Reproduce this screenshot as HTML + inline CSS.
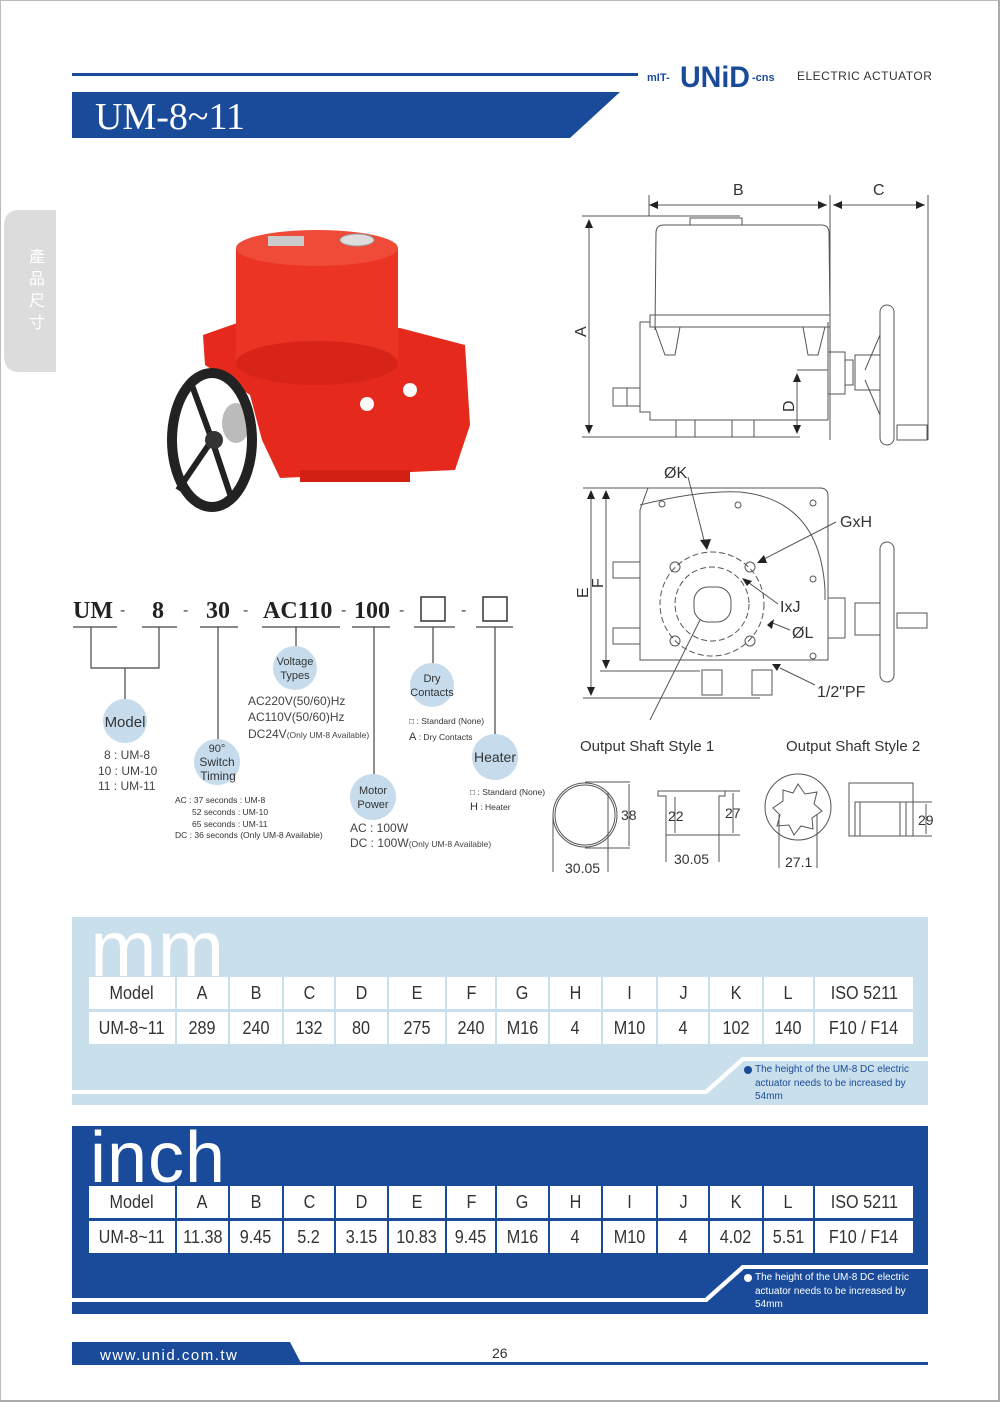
<!DOCTYPE html>
<html><head><meta charset="utf-8"><style>
*{margin:0;padding:0;box-sizing:border-box}
body{width:1000px;height:1402px;background:#fff;position:relative;overflow:hidden;font-family:"Liberation Sans",sans-serif}
.frame{position:absolute;left:0;top:0;width:1000px;height:1402px;border:1px solid #bbb;border-right:2px solid #aaa;border-bottom:2px solid #aaa}
.row{position:absolute;left:89px;display:flex;gap:2px;height:32px}
.row div{background:#fff;color:#333;font-family:"Liberation Sans",sans-serif;font-size:18px;display:flex;align-items:center;justify-content:center;height:32px;white-space:nowrap}
.row div span{display:inline-block;transform:scaleX(0.9)}
.big{position:absolute;font-family:"Liberation Sans",sans-serif;line-height:1;letter-spacing:1px}
.note{position:absolute;left:755px;font-size:10px;line-height:13.5px;font-family:"Liberation Sans",sans-serif;width:172px}
</style></head><body>
<div class="frame"></div>

<svg width="1000" height="1402" style="position:absolute;left:0;top:0" font-family="Liberation Sans, sans-serif">
<!-- header -->
<rect x="72" y="73" width="566" height="3" fill="#1a4b9b"/>
<polygon points="72,92 620,92 570,138 72,138" fill="#1a4b9b"/>
<text x="95" y="129" font-family="Liberation Serif, serif" font-size="38" fill="#fff">UM-8~11</text>
<text x="647" y="81" font-size="11" font-weight="bold" fill="#1a4b9b">mIT-</text>
<text x="680" y="87" font-size="30" font-weight="bold" fill="#1a4b9b" textLength="70" lengthAdjust="spacingAndGlyphs">UNiD</text>
<text x="752" y="81" font-size="11" font-weight="bold" fill="#1a4b9b">-cns</text>
<text x="797" y="80" font-size="12" fill="#333" letter-spacing="0.5">ELECTRIC ACTUATOR</text>
<!-- side tab -->
<path d="M56,210 L20,210 Q4,210 4,226 L4,356 Q4,372 20,372 L56,372 Z" fill="#dcdcdc"/>
<text font-family="Noto Sans CJK TC, sans-serif" font-size="16" fill="#fff" text-anchor="middle"><tspan x="37" y="262">產</tspan><tspan x="37" y="284">品</tspan><tspan x="37" y="306">尺</tspan><tspan x="37" y="328">寸</tspan></text>

<!-- product photo -->
<polygon points="203,335 240,322 400,328 465,345 470,425 455,470 280,478 262,440 250,395 205,365" fill="#e52a1d"/>
<rect x="236" y="248" width="162" height="115" fill="#ec3424"/>
<ellipse cx="317" cy="363" rx="81" ry="22" fill="#d82418"/>
<ellipse cx="317" cy="248" rx="81" ry="18" fill="#f04a38"/>
<rect x="268" y="236" width="36" height="10" fill="#ccc"/>
<ellipse cx="357" cy="240" rx="17" ry="6" fill="#ddd" stroke="#999"/>
<rect x="300" y="470" width="110" height="12" fill="#d22015"/>
<circle cx="367" cy="404" r="7" fill="#fafafa"/><circle cx="410" cy="390" r="7" fill="#fafafa"/>
<ellipse cx="236" cy="423" rx="14" ry="20" fill="#bbb"/>
<ellipse cx="212" cy="440" rx="40" ry="67" fill="none" stroke="#222" stroke-width="10"/>
<line x1="212" y1="440" x2="190" y2="380" stroke="#222" stroke-width="6"/>
<line x1="212" y1="440" x2="232" y2="500" stroke="#222" stroke-width="6"/>
<line x1="212" y1="440" x2="178" y2="490" stroke="#222" stroke-width="6"/>
<circle cx="214" cy="440" r="9" fill="#333"/>

<!-- model code -->
<g font-family="Liberation Serif, serif" font-weight="bold" font-size="24" fill="#222">
<text x="73" y="618">UM</text><text x="152" y="618">8</text><text x="206" y="618">30</text><text x="263" y="618">AC110</text><text x="354" y="618">100</text>
</g>
<g fill="#444" font-size="16"><text x="120" y="615">-</text><text x="183" y="615">-</text><text x="243" y="615">-</text><text x="341" y="615">-</text><text x="399" y="615">-</text><text x="461" y="615">-</text></g>
<rect x="421" y="597" width="24" height="24" fill="none" stroke="#333" stroke-width="1.5"/>
<rect x="483" y="597" width="24" height="24" fill="none" stroke="#333" stroke-width="1.5"/>
<g stroke="#444" stroke-width="1.2" fill="none">
<line x1="73" y1="627" x2="117" y2="627"/><line x1="142" y1="627" x2="177" y2="627"/><line x1="200" y1="627" x2="238" y2="627"/><line x1="262" y1="627" x2="340" y2="627"/><line x1="352" y1="627" x2="390" y2="627"/><line x1="414" y1="627" x2="455" y2="627"/><line x1="476" y1="627" x2="513" y2="627"/>
<polyline points="91,627 91,668 159,668 159,627"/><line x1="125" y1="668" x2="125" y2="700"/>
<line x1="218" y1="627" x2="218" y2="740"/><line x1="296" y1="627" x2="296" y2="647"/><line x1="374" y1="627" x2="374" y2="775"/><line x1="433" y1="627" x2="433" y2="663"/><line x1="495" y1="627" x2="495" y2="735"/>
</g>
<g fill="#c6dcec"><circle cx="125" cy="721" r="22"/><circle cx="217" cy="762" r="23"/><circle cx="295" cy="668" r="22"/><circle cx="373" cy="797" r="23"/><circle cx="432" cy="685" r="22"/><circle cx="495" cy="757" r="23"/></g>
<g fill="#333" text-anchor="middle">
<text x="125" y="727" font-size="15">Model</text>
<text x="217" y="752" font-size="11">90°</text><text x="217" y="766" font-size="12">Switch</text><text x="218" y="780" font-size="12">Timing</text>
<text x="295" y="665" font-size="11">Voltage</text><text x="295" y="679" font-size="11">Types</text>
<text x="373" y="794" font-size="11">Motor</text><text x="373" y="808" font-size="11">Power</text>
<text x="432" y="682" font-size="11">Dry</text><text x="432" y="696" font-size="11">Contacts</text>
<text x="495" y="762" font-size="14">Heater</text>
</g>
<g fill="#444" font-size="12">
<text x="104" y="759">8 : UM-8</text><text x="98" y="775">10 : UM-10</text><text x="98" y="790">11 : UM-11</text>
<text x="248" y="705">AC220V(50/60)Hz</text><text x="248" y="721">AC110V(50/60)Hz</text><text x="248" y="738">DC24V<tspan font-size="8.5">(Only UM-8 Available)</tspan></text>
<text x="350" y="832">AC : 100W</text><text x="350" y="847">DC : 100W<tspan font-size="8.5">(Only UM-8 Available)</tspan></text>
</g>
<g fill="#333" font-size="8.5">
<text x="175" y="803">AC : 37 seconds : UM-8</text><text x="192" y="815">52 seconds : UM-10</text><text x="192" y="827">65 seconds : UM-11</text><text x="175" y="838">DC : 36 seconds (Only UM-8 Available)</text>
<text x="409" y="724">□ : Standard (None)</text><text x="409" y="740"><tspan font-size="11">A</tspan> : Dry Contacts</text>
<text x="470" y="795">□ : Standard (None)</text><text x="470" y="810"><tspan font-size="11">H</tspan> : Heater</text>
</g>

<!-- side view drawing -->
<g stroke="#555" stroke-width="1" fill="none">
<line x1="649" y1="195" x2="649" y2="216"/><line x1="830" y1="195" x2="830" y2="440"/><line x1="928" y1="195" x2="928" y2="440"/>
<line x1="652" y1="205" x2="827" y2="205"/><line x1="833" y1="205" x2="925" y2="205"/>
<line x1="582" y1="216" x2="740" y2="216"/><line x1="589" y1="220" x2="589" y2="433"/><line x1="582" y1="437" x2="800" y2="437"/>
<line x1="797" y1="382" x2="797" y2="433"/><line x1="797" y1="370" x2="828" y2="370"/>
<path d="M655,330 L656,233 Q656,225 664,225 L821,225 Q829,225 829,233 L830,315"/>
<rect x="690" y="218" width="52" height="7"/>
<rect x="650" y="315" width="180" height="12"/>
<path d="M650,322 L640,322 L640,412 L650,412 L650,420 L828,420 L828,322"/>
<polygon points="655,327 665,355 675,355 680,327"/><polygon points="803,327 808,355 818,355 825,327"/>
<rect x="676" y="420" width="78" height="17"/><line x1="695" y1="420" x2="695" y2="437"/><line x1="732" y1="420" x2="732" y2="437"/>
<rect x="613" y="388" width="27" height="18"/><line x1="627" y1="388" x2="627" y2="406"/>
<rect x="828" y="352" width="17" height="42"/><rect x="845" y="360" width="8" height="25"/><rect x="855" y="355" width="25" height="35"/>
<rect x="880" y="305" width="14" height="140" rx="7"/><line x1="880" y1="335" x2="865" y2="370"/><line x1="880" y1="415" x2="865" y2="380"/>
<rect x="897" y="425" width="30" height="15"/>
</g>
<g fill="#222"><polygon points="649,205 658,201 658,209"/><polygon points="827,205 818,201 818,209"/><polygon points="833,205 842,201 842,209"/><polygon points="925,205 916,201 916,209"/>
<polygon points="589,219 585,228 593,228"/><polygon points="589,434 585,425 593,425"/><polygon points="797,373 793,382 801,382"/><polygon points="797,434 793,425 801,425"/></g>
<g fill="#333" font-size="16"><text x="733" y="195">B</text><text x="873" y="195">C</text>
<text transform="translate(586,337) rotate(-90)">A</text><text transform="translate(794,412) rotate(-90)">D</text></g>

<!-- top view drawing -->
<g stroke="#555" stroke-width="1" fill="none">
<path d="M648,488 L820,488 Q828,488 828,496 L828,660 L640,660 L640,510 Z"/>
<path d="M640,505 Q700,490 740,492 Q820,500 825,590 L825,600"/>
<line x1="583" y1="488" x2="648" y2="488"/><line x1="583" y1="698" x2="760" y2="698"/><line x1="600" y1="671" x2="700" y2="671"/>
<line x1="591" y1="491" x2="591" y2="695"/><line x1="606" y1="491" x2="606" y2="668"/>
<circle cx="712" cy="604" r="52" stroke-dasharray="6,3"/><circle cx="712" cy="604" r="37" stroke-dasharray="6,3"/>
<rect x="694" y="587" width="37" height="35" rx="14"/>
<circle cx="675" cy="567" r="5"/><circle cx="750" cy="567" r="5"/><circle cx="675" cy="641" r="5"/><circle cx="750" cy="641" r="5"/>
<circle cx="662" cy="504" r="3"/><circle cx="738" cy="505" r="3"/><circle cx="813" cy="503" r="3"/><circle cx="813" cy="579" r="3"/><circle cx="813" cy="656" r="3"/>
<rect x="613" y="562" width="27" height="16"/><rect x="613" y="628" width="27" height="16"/>
<rect x="702" y="670" width="20" height="25"/><rect x="752" y="670" width="20" height="25"/>
<rect x="828" y="598" width="17" height="40"/><rect x="855" y="603" width="25" height="32"/>
<rect x="880" y="542" width="14" height="140" rx="7"/><rect x="897" y="613" width="30" height="15"/>
<line x1="688" y1="477" x2="706" y2="548"/><line x1="836" y1="522" x2="762" y2="560"/><line x1="778" y1="604" x2="745" y2="580"/>
<line x1="790" y1="630" x2="770" y2="622"/><line x1="815" y1="685" x2="780" y2="668"/><line x1="700" y1="620" x2="650" y2="720"/>
</g>
<g fill="#222"><polygon points="591,490 587,499 595,499"/><polygon points="591,696 587,687 595,687"/><polygon points="606,490 602,499 610,499"/><polygon points="606,669 602,660 610,660"/>
<polygon points="707,550 700,540 711,539"/><polygon points="757,563 764,555 767,563"/><polygon points="767,625 774,619 772,629"/><polygon points="742,578 752,581 747,586"/><polygon points="772,664 781,664 777,671"/></g>
<g fill="#333" font-size="16"><text x="664" y="478">ØK</text><text x="840" y="527">GxH</text><text x="780" y="612">IxJ</text><text x="792" y="638">ØL</text><text x="817" y="697">1/2"PF</text>
<text transform="translate(588,598) rotate(-90)">E</text><text transform="translate(603,588) rotate(-90)">F</text></g>

<!-- output shaft -->
<g fill="#333" font-size="15"><text x="580" y="751">Output Shaft Style 1</text><text x="786" y="751">Output Shaft Style 2</text></g>
<g stroke="#555" stroke-width="1" fill="none">
<circle cx="585" cy="815" r="32"/><circle cx="585" cy="815" r="30"/>
<line x1="585" y1="782" x2="630" y2="782"/><line x1="585" y1="848" x2="630" y2="848"/><line x1="553" y1="815" x2="553" y2="872"/><line x1="608" y1="792" x2="608" y2="872"/><line x1="629" y1="784" x2="629" y2="846"/>
<path d="M658,791 L725,791 L725,796 L719,796 L719,835 L666,835 L666,796 L658,796 Z"/>
<line x1="719" y1="835" x2="740" y2="835"/><line x1="725" y1="791" x2="740" y2="791"/><line x1="675" y1="797" x2="675" y2="833"/><line x1="733" y1="793" x2="733" y2="833"/><line x1="666" y1="835" x2="666" y2="862"/><line x1="719" y1="835" x2="719" y2="862"/>
<circle cx="798" cy="807" r="33"/>
<polygon points="798,784 805,794 817,792 814,804 822,811 812,818 813,829 801,826 794,835 789,825 777,826 780,815 773,808 783,801 783,790 793,793"/>
<line x1="779" y1="815" x2="779" y2="868"/><line x1="817" y1="815" x2="817" y2="868"/>
<rect x="849" y="783" width="64" height="53"/><rect x="855" y="802" width="51" height="34"/><line x1="860" y1="802" x2="860" y2="836"/><line x1="900" y1="802" x2="900" y2="836"/>
<line x1="906" y1="802" x2="932" y2="802"/><line x1="906" y1="836" x2="932" y2="836"/><line x1="926" y1="804" x2="926" y2="834"/>
</g>
<g fill="#333" font-size="14"><text x="621" y="820">38</text><text x="668" y="821">22</text><text x="725" y="818">27</text><text x="565" y="873">30.05</text><text x="674" y="864">30.05</text><text x="785" y="867">27.1</text><text x="918" y="825">29</text></g>

<!-- mm box -->
<rect x="72" y="917" width="856" height="188" fill="#c9dfeb"/>
<polygon points="72,1090 705,1090 742,1057 928,1057 928,1061 744,1061 707,1094 72,1094" fill="#fff"/>
<!-- inch box -->
<rect x="72" y="1126" width="856" height="188" fill="#1a4b9b"/>
<polygon points="72,1298 705,1298 742,1265 928,1265 928,1269 744,1269 707,1302 72,1302" fill="#fff"/>
<!-- footer -->
<polygon points="72,1342 290,1342 302,1365 72,1365" fill="#1a4b9b"/>
<rect x="290" y="1362" width="638" height="3" fill="#1a4b9b"/>
<text x="100" y="1360" font-size="15" fill="#fff" letter-spacing="1.5">www.unid.com.tw</text>
<text x="492" y="1358" font-size="14" fill="#333">26</text>
</svg>

<div class="big" style="left:90px;top:920px;color:#fff;font-size:80px;line-height:58px;height:56px;overflow:hidden">mm</div>
<div class="big" style="left:90px;top:1122px;color:#fff;font-size:72px">inch</div>

<div class="row" style="top:977px"><div style="width:86px"><span>Model</span></div><div style="width:51px"><span>A</span></div><div style="width:52px"><span>B</span></div><div style="width:50px"><span>C</span></div><div style="width:51px"><span>D</span></div><div style="width:56px"><span>E</span></div><div style="width:48px"><span>F</span></div><div style="width:51px"><span>G</span></div><div style="width:51px"><span>H</span></div><div style="width:53px"><span>I</span></div><div style="width:50px"><span>J</span></div><div style="width:52px"><span>K</span></div><div style="width:49px"><span>L</span></div><div style="width:98px"><span>ISO 5211</span></div></div>
<div class="row" style="top:1012px"><div style="width:86px"><span>UM-8~11</span></div><div style="width:51px"><span>289</span></div><div style="width:52px"><span>240</span></div><div style="width:50px"><span>132</span></div><div style="width:51px"><span>80</span></div><div style="width:56px"><span>275</span></div><div style="width:48px"><span>240</span></div><div style="width:51px"><span>M16</span></div><div style="width:51px"><span>4</span></div><div style="width:53px"><span>M10</span></div><div style="width:50px"><span>4</span></div><div style="width:52px"><span>102</span></div><div style="width:49px"><span>140</span></div><div style="width:98px"><span>F10 / F14</span></div></div>

<div class="row" style="top:1186px"><div style="width:86px"><span>Model</span></div><div style="width:51px"><span>A</span></div><div style="width:52px"><span>B</span></div><div style="width:50px"><span>C</span></div><div style="width:51px"><span>D</span></div><div style="width:56px"><span>E</span></div><div style="width:48px"><span>F</span></div><div style="width:51px"><span>G</span></div><div style="width:51px"><span>H</span></div><div style="width:53px"><span>I</span></div><div style="width:50px"><span>J</span></div><div style="width:52px"><span>K</span></div><div style="width:49px"><span>L</span></div><div style="width:98px"><span>ISO 5211</span></div></div>
<div class="row" style="top:1221px"><div style="width:86px"><span>UM-8~11</span></div><div style="width:51px"><span>11.38</span></div><div style="width:52px"><span>9.45</span></div><div style="width:50px"><span>5.2</span></div><div style="width:51px"><span>3.15</span></div><div style="width:56px"><span>10.83</span></div><div style="width:48px"><span>9.45</span></div><div style="width:51px"><span>M16</span></div><div style="width:51px"><span>4</span></div><div style="width:53px"><span>M10</span></div><div style="width:50px"><span>4</span></div><div style="width:52px"><span>4.02</span></div><div style="width:49px"><span>5.51</span></div><div style="width:98px"><span>F10 / F14</span></div></div>

<div class="note" style="top:1063px;color:#1a4b9b"><span style="position:absolute;left:-11px;top:3px;width:8px;height:8px;border-radius:50%;background:#1a4b9b"></span>The height of the UM-8 DC electric actuator needs to be increased by 54mm</div>
<div class="note" style="top:1271px;color:#fff"><span style="position:absolute;left:-11px;top:3px;width:8px;height:8px;border-radius:50%;background:#fff"></span>The height of the UM-8 DC electric actuator needs to be increased by 54mm</div>
</body></html>
